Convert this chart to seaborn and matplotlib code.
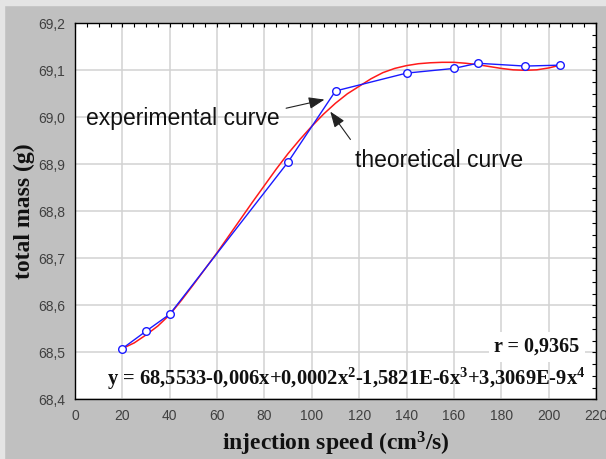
import matplotlib
matplotlib.use("Agg")
import matplotlib.pyplot as plt
import seaborn as sns
from matplotlib.ticker import FixedLocator, FixedFormatter, MultipleLocator
from matplotlib.patches import Rectangle

# ---- data ----
speed_exp = [20, 30, 40, 90, 110, 140, 160, 170, 190, 205]
mass_exp = [68.508, 68.545, 68.581, 68.905, 69.056, 69.094, 69.104, 69.115, 69.109, 69.111]

speed_theo = [20, 25, 30, 35, 40, 45, 50, 55, 60, 65, 70, 75, 80, 85, 90, 95, 100,
              105, 110, 115, 120, 125, 130, 135, 140, 145, 150, 155, 160, 165,
              170, 175, 180, 185, 190, 195, 200, 205]
mass_theo = [68.508, 68.520, 68.537, 68.556, 68.580, 68.611, 68.644, 68.678, 68.712,
             68.748, 68.784, 68.820, 68.855, 68.890, 68.923, 68.953, 68.981, 69.007,
             69.030, 69.050, 69.066, 69.082, 69.095, 69.104, 69.110, 69.114, 69.116,
             69.117, 69.117, 69.115, 69.112, 69.108, 69.104, 69.101, 69.100, 69.101,
             69.105, 69.111]

x_ticks = [0, 20, 40, 60, 80, 100, 120, 140, 160, 180, 200, 220]
x_tick_labels = ["0", "20", "40", "60", "80", "100", "120", "140", "160", "180", "200", "220"]
y_ticks = [68.4, 68.5, 68.6, 68.7, 68.8, 68.9, 69.0, 69.1, 69.2]
y_tick_labels = ["68,4", "68,5", "68,6", "68,7", "68,8", "68,9", "69,0", "69,1", "69,2"]

x_label = "injection speed (cm$^3$/s)"
y_label = "total mass (g)"
equation_text = "y = 68,5533-0,006x+0,0002x$^2$-1,5821E-6x$^3$+3,3069E-9x$^4$"
r_text = "r = 0,9365"
exp_label = "experimental curve"
theo_label = "theoretical curve"

# ---- figure ----
sns.set_theme(style="white")
plt.rcParams["mathtext.fontset"] = "custom"
plt.rcParams["mathtext.rm"] = "Liberation Serif:bold"
plt.rcParams["mathtext.it"] = "Liberation Serif:bold"
plt.rcParams["mathtext.bf"] = "Liberation Serif:bold"
plt.rcParams["mathtext.default"] = "rm"

W, H = 606, 459
fig = plt.figure(figsize=(W / 100, H / 100), dpi=100, facecolor="#c0c0c0")
# light frame strips at top and left of the window
fig.patches.append(Rectangle((0, 1 - 5 / H), 1, 5 / H, transform=fig.transFigure,
                             color="#e4e4e4", zorder=0))
fig.patches.append(Rectangle((0, 0), 4 / W, 1, transform=fig.transFigure,
                             color="#e4e4e4", zorder=0))

left, right, top, bottom = 75, 596, 23.3, 399.3
ax = fig.add_axes([left / W, 1 - bottom / H, (right - left) / W, (bottom - top) / H])
ax.set_facecolor("white")

sns.lineplot(x=speed_theo, y=mass_theo, color="#ff1a1a", lw=1.1, ax=ax, sort=False, zorder=3)
sns.lineplot(x=speed_exp, y=mass_exp, color="#1a1aff", lw=1.0, ax=ax, sort=False,
             marker="o", markersize=5.5, markerfacecolor="white",
             markeredgecolor="#1a1aff", markeredgewidth=1.0, zorder=4)

ax.set_xlim(0, 220)
ax.set_ylim(68.4, 69.2)
ax.xaxis.set_major_locator(FixedLocator(x_ticks))
ax.xaxis.set_major_formatter(FixedFormatter(x_tick_labels))
ax.yaxis.set_major_locator(FixedLocator(y_ticks))
ax.yaxis.set_major_formatter(FixedFormatter(y_tick_labels))
ax.xaxis.set_minor_locator(MultipleLocator(5))
ax.yaxis.set_minor_locator(MultipleLocator(0.025))

ax.grid(True, which="major", color="#d2d2d2", lw=1.1)
ax.set_axisbelow(True)
ax.tick_params(which="both", direction="in", top=True, right=True, color="black",
               length=3, width=0.8, labelsize=10, labelcolor="#404040", pad=7)
for lab in ax.get_xticklabels() + ax.get_yticklabels():
    lab.set_family(["Liberation Sans Narrow", "Liberation Sans", "DejaVu Sans"])
for sp in ax.spines.values():
    sp.set_visible(True)
    sp.set_color("black")
    sp.set_linewidth(1.0)

serif = ["Liberation Serif", "DejaVu Serif"]
ax.set_xlabel(x_label, family=serif, fontweight="bold", fontsize=17, color="#111111", labelpad=5)
ax.set_ylabel(y_label, family=serif, fontweight="bold", fontsize=17, color="#111111")
ax.yaxis.set_label_coords(-0.077, 0.5)

sans = ["Liberation Sans", "DejaVu Sans"]
ax.text(4.8, 68.984, exp_label, family=sans, fontsize=16.5, color="#111111",
        ha="left", va="baseline", zorder=5)
ax.text(118.4, 68.894, theo_label, family=sans, fontsize=16.5, color="#111111",
        ha="left", va="baseline", zorder=5)
arrow = dict(arrowstyle="-|>,head_length=0.8,head_width=0.3", color="#222222", lw=0.8)
ax.annotate("", xy=(106.5, 69.039), xytext=(88.0, 69.018), arrowprops=arrow, zorder=5)
ax.annotate("", xy=(107.1, 69.017), xytext=(117.0, 68.948), arrowprops=arrow, zorder=5)

ax.text(13.7, 68.430, equation_text, family=serif, fontweight="bold", fontsize=14.8,
        color="#111111", ha="left", va="baseline", zorder=5)
ax.text(213.1, 68.501, r_text, family=serif, fontweight="bold", fontsize=14.5,
        color="#111111", ha="right", va="baseline", zorder=5,
        bbox=dict(boxstyle="square,pad=0.25", fc="white", ec="none"))

fig.savefig("out.png", dpi=100, facecolor=fig.get_facecolor())
